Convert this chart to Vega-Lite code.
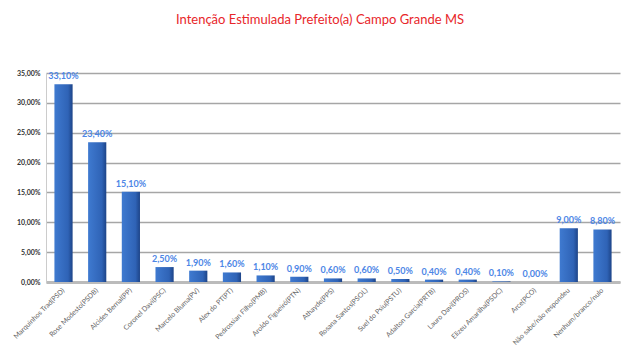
{
  "$schema": "https://vega.github.io/schema/vega-lite/v6.json",
  "width": 574,
  "height": 209,
  "autosize": {"type": "none"},
  "padding": {"left": 46, "top": 73, "right": 20, "bottom": 74},
  "background": "white",
  "title": {
    "text": "Intenção Estimulada Prefeito(a) Campo Grande MS",
    "color": "#e8262a",
    "font": "Lato",
    "fontSize": 13,
    "fontWeight": "normal",
    "anchor": "middle",
    "dx": -13,
    "offset": 42
  },
  "data": {
    "values": [
      {"candidato": "Marquinhos Trad(PSD)", "pct": 33.1},
      {"candidato": "Rose Modesto(PSDB)", "pct": 23.4},
      {"candidato": "Alcides Bernal(PP)", "pct": 15.1},
      {"candidato": "Coronel Davi(PSC)", "pct": 2.5},
      {"candidato": "Marcelo Bluma(PV)", "pct": 1.9},
      {"candidato": "Alex do PT(PT)", "pct": 1.6},
      {"candidato": "Pedrossian Filho(PMB)", "pct": 1.1},
      {"candidato": "Aroldo Figueiró(PTN)", "pct": 0.9},
      {"candidato": "Athayde(PPS)", "pct": 0.6},
      {"candidato": "Rosana Santos(PSOL)", "pct": 0.6},
      {"candidato": "Suel do Psiu(PSTU)", "pct": 0.5},
      {"candidato": "Adalton Garcia(PRTB)", "pct": 0.4},
      {"candidato": "Lauro Davi(PROS)", "pct": 0.4},
      {"candidato": "Elizeu Amarilha(PSDC)", "pct": 0.1},
      {"candidato": "Arce(PCO)", "pct": 0.0},
      {"candidato": "Não sabe/não respondeu", "pct": 9.0},
      {"candidato": "Nenhum/branco/nulo", "pct": 8.8}
    ]
  },
  "transform": [
    {"calculate": "replace(format(datum.pct, '.2f'), '.', ',') + '%'", "as": "rotulo"}
  ],
  "encoding": {
    "x": {
      "field": "candidato",
      "type": "nominal",
      "sort": null,
      "scale": {"paddingInner": 0.46, "paddingOuter": 0.25},
      "axis": {
        "title": null,
        "labelAngle": -45,
        "labelAlign": "right",
        "labelBaseline": "middle",
        "labelFont": "Lato",
        "labelFontSize": 7,
        "labelColor": "#666666",
        "labelPadding": 7,
        "labelLimit": 200,
        "ticks": false,
        "domainColor": "#bbbbbb",
        "domainWidth": 3
      }
    },
    "y": {
      "field": "pct",
      "type": "quantitative",
      "scale": {"domain": [0, 35]},
      "axis": {
        "title": null,
        "values": [0, 5, 10, 15, 20, 25, 30, 35],
        "labelExpr": "replace(format(datum.value, '.2f'), '.', ',') + '%'",
        "labelFont": "Lato",
        "labelFontSize": 7,
        "labelFontWeight": "bold",
        "labelColor": "#333333",
        "labelPadding": 6,
        "ticks": false,
        "domainColor": "#cccccc",
        "gridColor": "#a6a6a6",
        "gridWidth": 1.5
      }
    }
  },
  "layer": [
    {
      "mark": {
        "type": "bar",
        "color": {
          "gradient": "linear",
          "x1": 0, "y1": 0, "x2": 1, "y2": 0,
          "stops": [
            {"offset": 0, "color": "#3f7ad0"},
            {"offset": 0.75, "color": "#2f63b6"},
            {"offset": 1, "color": "#1d4488"}
          ]
        }
      }
    },
    {
      "mark": {
        "type": "text",
        "dy": -8,
        "font": "Lato",
        "fontSize": 9,
        "fontWeight": "bold",
        "color": "#4d86e6"
      },
      "encoding": {
        "text": {"field": "rotulo", "type": "nominal"}
      }
    }
  ],
  "config": {"view": {"stroke": null}}
}
